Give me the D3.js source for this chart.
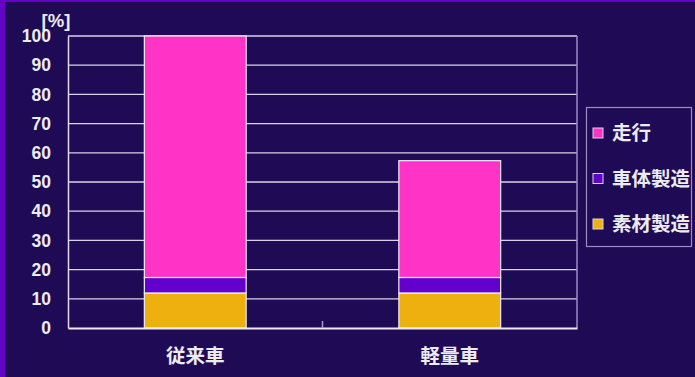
<!DOCTYPE html>
<html>
<head>
<meta charset="utf-8">
<script src="https://cdn.jsdelivr.net/npm/d3@7"></script>
<style>
  html, body { margin: 0; padding: 0; background: #1f0b55; }
  svg { display: block; }
</style>
</head>
<body>
<svg id="chart" width="695" height="377"></svg>
<script>
// Life-cycle CO2 share: conventional vs lightweight vehicle
const categories = ["従来車", "軽量車"];
const seriesNames = ["素材製造", "車体製造", "走行"];
const materialValues = [12, 12];
const bodyValues = [5.3, 5.3];
const drivingValues = [82.7, 40];
const yTicks = [0, 10, 20, 30, 40, 50, 60, 70, 80, 90, 100];
const legendOrder = ["走行", "車体製造", "素材製造"];

const colors = { "素材製造": "#eeb00e", "車体製造": "#6300cc", "走行": "#ff33c6" };

const W = 695, H = 377;
const margin = { left: 68, right: 118, top: 36, bottom: 49 };
const svg = d3.select("#chart");

// background and frame
svg.append("rect").attr("width", W).attr("height", H).attr("fill", "#1f0b55");
svg.append("rect").attr("x", 0).attr("y", 0).attr("width", 5).attr("height", H).attr("fill", "#6106c4");
svg.append("rect").attr("x", 0).attr("y", 0).attr("width", W).attr("height", 2).attr("fill", "#6106c4");

const x = d3.scaleBand().domain(categories).range([margin.left, W - margin.right]).paddingInner(0).paddingOuter(0);
const y = d3.scaleLinear().domain([0, 100]).range([H - margin.bottom, margin.top]);

const rows = categories.map((c, i) => ({
  cat: c,
  "素材製造": materialValues[i],
  "車体製造": bodyValues[i],
  "走行": drivingValues[i]
}));
const stacked = d3.stack().keys(seriesNames)(rows);

// gridlines
svg.append("g").selectAll("line").data(yTicks.filter(t => t > 0)).join("line")
  .attr("x1", margin.left).attr("x2", W - margin.right)
  .attr("y1", d => y(d)).attr("y2", d => y(d))
  .attr("stroke", "#d8d4e8").attr("stroke-width", 1.3);

// right frame
svg.append("line")
  .attr("x1", W - margin.right).attr("x2", W - margin.right)
  .attr("y1", y(100)).attr("y2", y(0))
  .attr("stroke", "#9c8cc4").attr("stroke-width", 1.5);

// bars
const barW = x.bandwidth() * 0.4;
svg.append("g").selectAll("g").data(stacked).join("g")
  .attr("fill", d => colors[d.key])
  .selectAll("rect").data(d => d).join("rect")
  .attr("x", d => x(d.data.cat) + (x.bandwidth() - barW) / 2)
  .attr("width", barW)
  .attr("y", d => y(d[1]))
  .attr("height", d => y(d[0]) - y(d[1]))
  .attr("stroke", "#f0eef8").attr("stroke-width", 1.2);

// y axis
const yAxis = svg.append("g").attr("transform", `translate(${margin.left},0)`)
  .call(d3.axisLeft(y).tickValues(yTicks).tickSize(0).tickPadding(17));
yAxis.select(".domain").attr("stroke", "#e0dcec").attr("stroke-width", 1.5);
yAxis.selectAll("text")
  .attr("fill", "#ececf0")
  .style("font-family", "'Liberation Sans', Arial, sans-serif")
  .style("font-size", "17.5px").style("font-weight", "bold");

// x axis
const xAxis = svg.append("g").attr("transform", `translate(0,${y(0)})`)
  .call(d3.axisBottom(x).tickSize(0).tickPadding(21));
xAxis.select(".domain").attr("stroke", "#ecebf4").attr("stroke-width", 1.8);
xAxis.selectAll("text")
  .attr("fill", "#ececf0")
  .style("font-family", "'Noto Sans CJK JP', sans-serif")
  .style("font-size", "19.5px").style("font-weight", "bold");

// divider tick between categories
svg.append("line")
  .attr("x1", x(categories[1])).attr("x2", x(categories[1]))
  .attr("y1", y(0) - 7).attr("y2", y(0))
  .attr("stroke", "#a89cc8").attr("stroke-width", 1.5);

// unit label
svg.append("text").attr("x", 56).attr("y", 27)
  .attr("text-anchor", "middle")
  .attr("fill", "#ececf0")
  .style("font-family", "'Liberation Sans', Arial, sans-serif")
  .style("font-size", "18.5px").style("font-weight", "bold")
  .text("[%]");

// legend
const lg = svg.append("g");
lg.append("rect").attr("x", 586.5).attr("y", 107.5).attr("width", 105).attr("height", 139)
  .attr("fill", "none").attr("stroke", "#9c8cc4").attr("stroke-width", 1.2);
const items = lg.selectAll("g.item").data(legendOrder).join("g")
  .attr("class", "item")
  .attr("transform", (d, i) => `translate(593,${133 + i * 45.5})`);
items.append("rect").attr("x", 0).attr("y", -5).attr("width", 10).attr("height", 10)
  .attr("fill", d => colors[d]).attr("stroke", "#d8d4e8").attr("stroke-width", 1);
items.append("text").attr("x", 19).attr("y", 0).attr("dy", "0.36em")
  .attr("fill", "#ececf0")
  .style("font-family", "'Noto Sans CJK JP', sans-serif")
  .style("font-size", "19.5px").style("font-weight", "bold")
  .text(d => d);
</script>
</body>
</html>
